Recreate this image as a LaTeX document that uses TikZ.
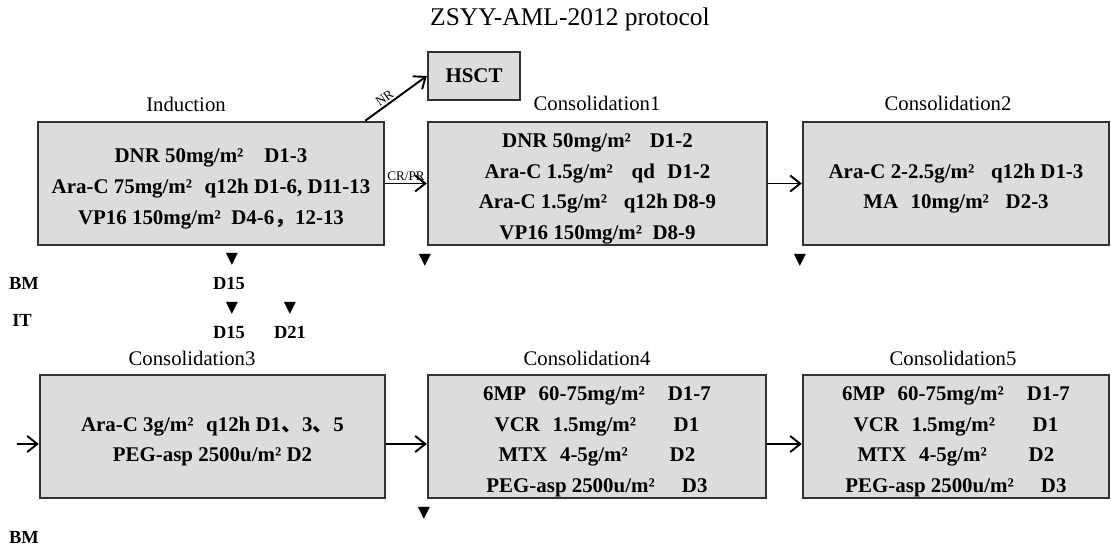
\documentclass[tikz,border=0pt]{standalone}
\usepackage{fontspec}
\setmainfont{Liberation Serif}
\newfontfamily\cjk{Noto Sans CJK SC}
\newfontfamily\symfont{DejaVu Sans}
\usepackage{tikz}
\usetikzlibrary{arrows.meta,positioning}
\definecolor{boxgray}{RGB}{220,220,220}
\definecolor{edgegray}{RGB}{50,50,50}
% extra room above the first line of a phase box
\newcommand{\pad}{\rule{0pt}{14pt}}

\begin{document}
\begin{tikzpicture}[
  phase/.style={draw=edgegray, line width=1.4pt, fill=boxgray, rectangle,
                minimum height=2.46cm, inner sep=0pt, align=center,
                font=\fontsize{11.9}{17.4}\selectfont\bfseries},
  phaselabel/.style={font=\fontsize{11.8}{14}\selectfont},
  flow/.style={-{Straight Barb[length=2mm,width=3.2mm]}, line width=1.1pt},
  tag/.style={font=\fontsize{10.5}{12}\selectfont\bfseries},
  tri/.style={font=\symfont\fontsize{9}{10}\selectfont, inner sep=0pt},
  small/.style={font=\fontsize{7.5}{8}\selectfont, inner sep=1pt}
]
\useasboundingbox (0,0) rectangle (22.22,-10.94);

% Title
\node[font=\fontsize{14.5}{17}\selectfont] (title) at (11.40,-0.38) {ZSYY-AML-2012 protocol};

% First row of phases
\node[phase, minimum width=6.92cm] (ind) at (4.22,-3.67)
  {\pad DNR 50mg/m²\hspace{1em}D1-3\\
   Ara-C 75mg/m²\hspace{0.6em}q12h D1-6, D11-13\\
   VP16 150mg/m²\hspace{0.5em}D4-6{\cjk ，}12-13};
\node[phase, minimum width=6.78cm] (c1) at (11.95,-3.67)
  {\pad DNR 50mg/m²\hspace{0.9em}D1-2\\
   Ara-C 1.5g/m²\hspace{0.9em}qd\hspace{0.6em}D1-2\\
   Ara-C 1.5g/m²\hspace{0.8em}q12h D8-9\\
   VP16 150mg/m²\hspace{0.5em}D8-9};
\node[phase, minimum width=6.12cm] (c2) at (19.12,-3.67)
  {\pad Ara-C 2-2.5g/m²\hspace{0.8em}q12h D1-3\\
   MA\hspace{0.6em}10mg/m²\hspace{0.8em}D2-3};
\node[phase, minimum width=1.84cm, minimum height=0.96cm] (hsct) at (9.48,-1.52) {HSCT};

% Second row of phases
\node[phase, minimum width=6.90cm] (c3) at (4.25,-8.73)
  {\pad Ara-C 3g/m²\hspace{0.6em}q12h D1{\cjk 、}3{\cjk 、}5\\
   PEG-asp 2500u/m² D2};
\node[phase, minimum width=6.76cm] (c4) at (11.94,-8.73)
  {\pad 6MP\hspace{0.6em}60-75mg/m²\hspace{1.1em}D1-7\\
   VCR\hspace{0.6em}1.5mg/m²\hspace{1.8em}D1\\
   MTX\hspace{0.6em}4-5g/m²\hspace{2em}D2\\
   PEG-asp 2500u/m²\hspace{1.3em}D3};
\node[phase, minimum width=6.12cm] (c5) at (19.12,-8.73)
  {\pad 6MP\hspace{0.6em}60-75mg/m²\hspace{1.1em}D1-7\\
   VCR\hspace{0.6em}1.5mg/m²\hspace{1.8em}D1\\
   MTX\hspace{0.6em}4-5g/m²\hspace{2em}D2\\
   PEG-asp 2500u/m²\hspace{1.3em}D3};

% Phase names
\node[phaselabel] (lind) at (3.72,-2.08)  {Induction};
\node[phaselabel] (lc1)  at (11.94,-2.06) {Consolidation1};
\node[phaselabel] (lc2)  at (18.96,-2.06) {Consolidation2};
\node[phaselabel] (lc3)  at (3.84,-7.16)  {Consolidation3};
\node[phaselabel] (lc4)  at (11.74,-7.16) {Consolidation4};
\node[phaselabel] (lc5)  at (19.06,-7.16) {Consolidation5};

% Arrows between phases
\draw[flow] ([xshift=-0.4cm]ind.north east) -- node[small, sloped, above, pos=0.38]{NR} (hsct.west);
\draw[flow] (ind.east) -- node[small, above]{CR/PR} (c1.west);
\draw[flow] (c1.east) -- (c2.west);
\coordinate (entry) at (0.34,-8.88);
\draw[flow] (entry) -- ([yshift=-0.15cm]c3.west);
\draw[flow] ([yshift=-0.15cm]c3.east) -- ([yshift=-0.15cm]c4.west);
\draw[flow] ([yshift=-0.15cm]c4.east) -- ([yshift=-0.15cm]c5.west);

% BM / IT time points
\node[tag] (bm1) at (0.48,-5.66)  {BM};
\node[tag] (it)  at (0.44,-6.40)  {IT};
\node[tag] (bm2) at (0.48,-10.74) {BM};
\node[tag] (d15a) at (4.58,-5.66) {D15};
\node[tag] (d15b) at (4.58,-6.64) {D15};
\node[tag] (d21)  at (5.80,-6.64) {D21};

\node[tri] (t1) at (4.64,-5.18)  {▼};
\node[tri] (t2) at (8.50,-5.20)  {▼};
\node[tri] (t3) at (16.00,-5.20) {▼};
\node[tri] (t4) at (4.64,-6.16)  {▼};
\node[tri] (t5) at (5.80,-6.16)  {▼};
\node[tri] (t6) at (8.48,-10.26) {▼};

\end{tikzpicture}
\end{document}
